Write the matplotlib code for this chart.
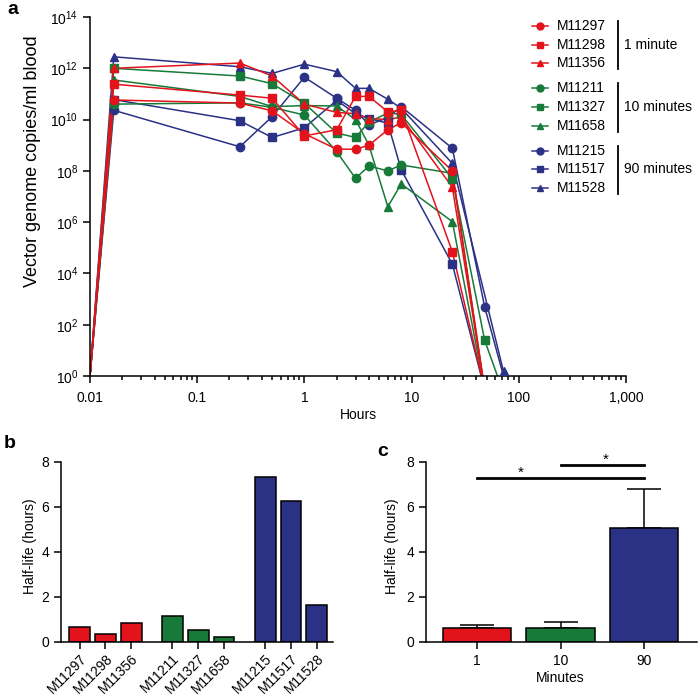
import numpy as np
import matplotlib
matplotlib.use("Agg")
import matplotlib.pyplot as plt
from matplotlib.lines import Line2D
from matplotlib.ticker import FixedLocator, LogLocator, NullLocator

plt.rcParams['font.family'] = ['Liberation Sans', 'DejaVu Sans']
plt.rcParams['mathtext.fontset'] = 'custom'
plt.rcParams['mathtext.rm'] = 'Liberation Sans'
plt.rcParams['font.size'] = 10
plt.rcParams['axes.linewidth'] = 1.1

# =========================
# data
# =========================
hours = [0.01, 1 / 60, 0.25, 0.5, 1, 2, 3, 4, 6, 8, 24, 48, 72]

# vector genome copies/ml blood (nan = not sampled)
m11297 = [1, 5.8e10, 4.4e10, 2.2e10, 2.8e9, 7e8, 7e8, 1e9, 4e9, 7.5e9, 1e8, 0.3, np.nan]
m11298 = [1, 2.4e11, 9e10, 6.8e10, 2.3e9, 4e9, 8e10, 8e10, 2e10, 2.3e10, 7e4, 0.3, np.nan]
m11356 = [1, 1e12, 1.6e12, 5e11, 4e10, 1.9e10, 1.7e10, 1.1e10, 1e10, 1.25e10, 2.3e7, 0.3, np.nan]
m11211 = [1, 4e10, 4.5e10, 3e10, 1.5e10, 5.6e8, 5.1e7, 1.55e8, 1e8, 1.7e8, 8e7, 0.3, np.nan]
m11327 = [1, 1e12, 5e11, 2.5e11, 4.3e10, 3e9, 2e9, 8e9, 1.8e10, 1.6e10, 5e7, 25, 0.22]
m11658 = [1, 3.5e11, 8e10, 3.2e10, 3.5e10, 3.4e10, 1e10, 1e9, 4e6, 3.1e7, 1.05e6, 0.3, np.nan]
m11215 = [1, 2.3e10, 8.7e8, 1.3e10, 4.5e11, 6.8e10, 2.3e10, 6.2e9, 1.2e10, 3.2e10, 7.6e8, 500, 1]
m11517 = [1, 6e10, 9e9, 2e9, 4.8e9, 5.6e10, 1.7e10, 1.1e10, 7.2e9, 1.1e8, 2.3e4, 0.3, np.nan]
m11528 = [1, 2.8e12, 1.15e12, 6.3e11, 1.45e12, 7.4e11, 1.65e11, 1.65e11, 6.2e10, 2.75e10, 1.95e8, np.nan, 1.5]

series = [m11297, m11298, m11356, m11211, m11327, m11658, m11215, m11517, m11528]
animals = ['M11297', 'M11298', 'M11356', 'M11211', 'M11327', 'M11658',
           'M11215', 'M11517', 'M11528']
groups = ['1 minute', '10 minutes', '90 minutes']

# half-life per animal (hours)
half_life = [0.65, 0.34, 0.85, 1.14, 0.52, 0.19, 7.32, 6.27, 1.63]

# half-life per infusion time
minutes = ['1', '10', '90']
mean_hl = [0.62, 0.62, 5.07]
sem_hl = [0.12, 0.26, 1.73]

# =========================
# style
# =========================
RED = '#e3131b'
GREEN = '#177a38'
BLUE = '#2b3286'
group_colors = [RED, GREEN, BLUE]
markers = ['o', 's', '^']

W, H = 700, 696


def fx(px):
    return px / W


def fy(py):
    return 1 - py / H


fig = plt.figure(figsize=(7, 6.96), dpi=100)


def style_axes(ax):
    ax.spines['top'].set_visible(False)
    ax.spines['right'].set_visible(False)
    ax.tick_params(direction='out', length=5, width=1.1, labelsize=10)


# =========================
# a: time course
# =========================
ax_a = fig.add_axes([fx(90), fy(376), fx(626) - fx(90), fy(17) - fy(376)])
style_axes(ax_a)

# blue under green under red
for k in [6, 7, 8, 3, 4, 5, 0, 1, 2]:
    t = np.array(hours)
    v = np.array(series[k], dtype=float)
    ok = ~np.isnan(v)
    col = group_colors[k // 3]
    ax_a.plot(t[ok], v[ok], color=col, lw=1.1, zorder=2)
    vis = ok & (v >= 1.5)
    ax_a.plot(t[vis], v[vis], ls='none', marker=markers[k % 3], ms=6,
              color=col, clip_on=False, zorder=3)

ax_a.set_xscale('log')
ax_a.set_yscale('log')
ax_a.set_xlim(0.01, 1000)
ax_a.set_ylim(1, 1e14)
ax_a.xaxis.set_major_locator(FixedLocator([0.01, 0.1, 1, 10, 100, 1000]))
ax_a.set_xticklabels(['0.01', '0.1', '1', '10', '100', '1,000'])
ax_a.xaxis.set_minor_locator(LogLocator(base=10, subs=np.arange(2, 10), numticks=20))
ax_a.tick_params(axis='x', which='minor', length=3, width=1.1)
ax_a.tick_params(axis='x', which='major', pad=6)
yt = [10.0 ** e for e in range(0, 15, 2)]
ax_a.yaxis.set_major_locator(FixedLocator(yt))
ax_a.set_yticklabels([r'$\mathregular{10^{%d}}$' % e for e in range(0, 15, 2)])
ax_a.yaxis.set_minor_locator(NullLocator())

fig.text(fx(33), fy(161), 'Vector genome copies/ml blood', rotation=90,
         ha='center', va='center', fontsize=13)
fig.text(fx(358), fy(415), 'Hours', ha='center', va='center', fontsize=10)

# legend with group brackets
for k, name in enumerate(animals):
    g = k // 3
    y = fy(26 + 18.6 * k + 6.5 * g)
    col = group_colors[g]
    fig.add_artist(Line2D([fx(532), fx(548)], [y, y], color=col, lw=1.1))
    fig.add_artist(Line2D([fx(540)], [y], marker=markers[k % 3], ms=5,
                          color=col, ls='none'))
    fig.text(fx(557), y, name, ha='left', va='center', fontsize=10)

for g, label in enumerate(groups):
    y0 = 26 + 18.6 * (3 * g) + 6.5 * g
    y2 = 26 + 18.6 * (3 * g + 2) + 6.5 * g
    fig.add_artist(Line2D([fx(617.5), fx(617.5)], [fy(y0 - 5), fy(y2 + 6)],
                          color='black', lw=1.3))
    fig.text(fx(624), fy((y0 + y2) / 2), label, ha='left', va='center', fontsize=10)

fig.text(fx(13), fy(10), 'a', fontsize=14, fontweight='bold', ha='center', va='center')

# =========================
# b: half-life per animal
# =========================
ax_b = fig.add_axes([fx(61), fy(641.7), fx(333) - fx(61), fy(461.7) - fy(641.7)])
style_axes(ax_b)

pos_b = [i + 0.6 * (i // 3) for i in range(len(animals))]
bar_cols = [group_colors[i // 3] for i in range(len(animals))]
ax_b.bar(pos_b, half_life, width=0.81, color=bar_cols, edgecolor='black', linewidth=1.1)
ax_b.set_xlim(-0.72, 9.83)
ax_b.set_ylim(0, 8)
ax_b.set_yticks([0, 2, 4, 6, 8])
ax_b.set_xticks(pos_b)
ax_b.set_xticklabels(animals, rotation=45, ha='right', va='top', rotation_mode='anchor')
ax_b.tick_params(axis='x', pad=2)

fig.text(fx(30), fy(546), 'Half-life (hours)', rotation=90, ha='center', va='center', fontsize=10)
fig.text(fx(10), fy(444), 'b', fontsize=14, fontweight='bold', ha='center', va='center')

# =========================
# c: half-life per group
# =========================
ax_c = fig.add_axes([fx(426), fy(641.7), fx(696.7) - fx(426), fy(461.7) - fy(641.7)])
style_axes(ax_c)

pos_c = np.arange(len(minutes))
ax_c.bar(pos_c, mean_hl, width=0.815, color=group_colors, edgecolor='black',
         linewidth=1.1, zorder=2)
ax_c.errorbar(pos_c, mean_hl, yerr=[np.zeros(len(sem_hl)), sem_hl], fmt='none',
              ecolor='black', elinewidth=1.1, capsize=12, capthick=1.1, zorder=1)
ax_c.set_xlim(-0.61, 2.63)
ax_c.set_ylim(0, 8)
ax_c.set_yticks([0, 2, 4, 6, 8])
ax_c.set_xticks(pos_c)
ax_c.set_xticklabels(minutes)

# significance bars
ax_c.plot([0, 2], [7.29, 7.29], color='black', lw=2, clip_on=False)
ax_c.plot([1, 2], [7.85, 7.85], color='black', lw=2, clip_on=False)
ax_c.text(0.52, 7.2, '*', ha='center', va='bottom', fontsize=11)
ax_c.text(1.54, 7.77, '*', ha='center', va='bottom', fontsize=11)

fig.text(fx(560), fy(678), 'Minutes', ha='center', va='center', fontsize=10)
fig.text(fx(391.7), fy(546), 'Half-life (hours)', rotation=90, ha='center', va='center', fontsize=10)
fig.text(fx(383), fy(452), 'c', fontsize=14, fontweight='bold', ha='center', va='center')

fig.savefig('out.png', dpi=100)
